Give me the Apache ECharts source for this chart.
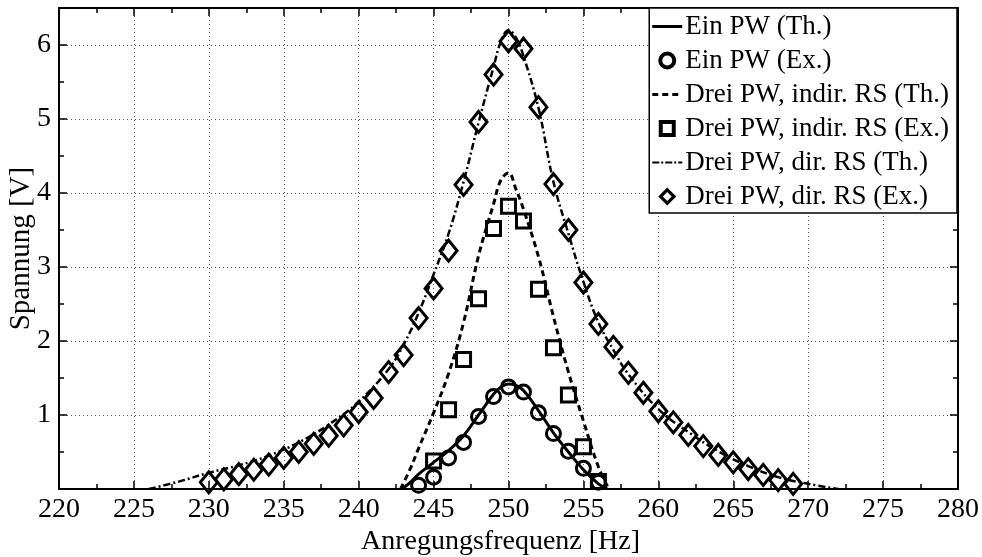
<!DOCTYPE html>
<html>
<head>
<meta charset="utf-8">
<script src="https://cdn.jsdelivr.net/npm/echarts@6/dist/echarts.min.js"></script>
<style>
html,body{margin:0;padding:0;background:#fff;}
#chart{width:982px;height:557px;}
</style>
</head>
<body>
<div id="chart"></div>
<script>
// ---- data ----
var einThFreq = [242.9, 243.5, 244, 245, 246, 247, 248, 249, 249.5, 250, 250.5, 251, 252, 253, 254, 255, 256, 256.6];
var einThVal  = [0, 0.1, 0.2, 0.36, 0.52, 0.72, 1.0, 1.28, 1.38, 1.42, 1.4, 1.33, 1.06, 0.76, 0.5, 0.26, 0.07, 0];

var einExFreq = [244, 245, 246, 247, 248, 249, 250, 251, 252, 253, 254, 255, 256];
var einExVal  = [0.05, 0.16, 0.42, 0.63, 0.98, 1.25, 1.38, 1.31, 1.03, 0.75, 0.51, 0.28, 0.09];

var indThFreq = [242.8, 243.5, 244, 245, 246, 247, 248, 249, 249.5, 250, 250.5, 251, 252, 253, 254, 255, 256, 256.7];
var indThVal  = [0, 0.3, 0.55, 1.03, 1.56, 2.25, 3.15, 3.85, 4.18, 4.27, 4.05, 3.78, 3.14, 2.33, 1.58, 0.92, 0.3, 0];

var indExFreq = [245, 246, 247, 248, 249, 250, 251, 252, 253, 254, 255, 256];
var indExVal  = [0.38, 1.07, 1.75, 2.57, 3.52, 3.82, 3.62, 2.7, 1.91, 1.27, 0.57, 0.1];

var dirThFreq = [226, 228, 230, 232, 234, 236, 238, 240, 242, 243, 244, 245, 246, 247, 248, 249, 249.5, 250, 250.5, 251, 252, 253, 254, 255, 256, 257, 258, 260, 262, 264, 266, 268, 270, 272];
var dirThVal  = [0, 0.1, 0.22, 0.32, 0.45, 0.63, 0.87, 1.18, 1.62, 1.95, 2.38, 2.9, 3.45, 4.15, 4.95, 5.7, 6.05, 6.2, 6.1, 5.85, 5.15, 4.15, 3.45, 2.8, 2.25, 1.88, 1.55, 1.08, 0.77, 0.51, 0.31, 0.16, 0.07, 0];

var dirExFreq = [230, 231, 232, 233, 234, 235, 236, 237, 238, 239, 240, 241, 242, 243, 244, 245, 246, 247, 248, 249, 250, 251, 252, 253, 254, 255, 256, 257, 258, 259, 260, 261, 262, 263, 264, 265, 266, 267, 268, 269];
var dirExVal  = [0.09, 0.13, 0.2, 0.26, 0.33, 0.42, 0.5, 0.61, 0.72, 0.86, 1.04, 1.23, 1.58, 1.81, 2.31, 2.71, 3.22, 4.11, 4.96, 5.6, 6.05, 5.95, 5.16, 4.12, 3.5, 2.79, 2.23, 1.92, 1.57, 1.3, 1.05, 0.9, 0.73, 0.58, 0.46, 0.36, 0.27, 0.19, 0.12, 0.07];

var seriesNames = ['Ein PW (Th.)', 'Ein PW (Ex.)', 'Drei PW, indir. RS (Th.)', 'Drei PW, indir. RS (Ex.)', 'Drei PW, dir. RS (Th.)', 'Drei PW, dir. RS (Ex.)'];
var xMin = 220, xMax = 280, xStep = 5;
var yMin = 0, yMax = 6.5, yStep = 1;

function pairs(xs, ys) { return xs.map(function (x, i) { return [x, ys[i]]; }); }

var FONT = 'Liberation Serif';
var chart = echarts.init(document.getElementById('chart'), null, {renderer: 'canvas'});

var gridDotted = {show: true, lineStyle: {color: '#555', width: 1, type: [1, 3]}};

function xAx(pos, labels) {
  return {
    type: 'value', position: pos, min: xMin, max: xMax, interval: xStep,
    name: labels ? 'Anregungsfrequenz [Hz]' : '', nameLocation: 'middle', nameGap: 39, nameMoveOverlap: false,
    nameTextStyle: {fontFamily: FONT, fontSize: 28, color: '#000', padding: [0, 16, 0, 0]},
    axisLine: {show: true, onZero: false, lineStyle: {color: '#000', width: 2}},
    axisTick: {show: true, inside: true, length: 8, lineStyle: {color: '#000', width: 1.5}},
    minorTick: {show: true, splitNumber: 2, length: 5, lineStyle: {color: '#000', width: 1.5}},
    axisLabel: {show: labels, fontFamily: FONT, fontSize: 28, color: '#000', margin: 7},
    splitLine: labels ? gridDotted : {show: false}
  };
}
function yAx(pos, labels) {
  return {
    type: 'value', position: pos, min: yMin, max: yMax, interval: yStep,
    name: labels ? 'Spannung [V]' : '', nameLocation: 'middle', nameGap: 23, nameMoveOverlap: false,
    nameTextStyle: {fontFamily: FONT, fontSize: 29, color: '#000'},
    axisLine: {show: true, onZero: false, lineStyle: {color: '#000', width: 2}},
    axisTick: {show: true, inside: true, length: 8, lineStyle: {color: '#000', width: 1.5}},
    minorTick: {show: true, splitNumber: 2, length: 5, lineStyle: {color: '#000', width: 1.5}},
    axisLabel: {show: labels, fontFamily: FONT, fontSize: 28, color: '#000', margin: 8,
      formatter: function (v) { return (v === 0 || v % 1 !== 0) ? '' : String(v); }},
    splitLine: labels ? gridDotted : {show: false}
  };
}

var hollow = {color: 'rgba(255,255,255,0)', borderColor: '#000', borderWidth: 3, opacity: 1};

// legend icons (30 x 18 box), corner specks fix the bounding box
var BOX = 'M0,0h0.01v0.01h-0.01z M29.99,17.99h0.01v0.01h-0.01z ';
var icons = [
  BOX + 'M0,7.5h30v3h-30z',
  BOX + 'M6,9 A9,9 0 1 0 24,9 A9,9 0 1 0 6,9 Z M10,9 A5,5 0 1 1 20,9 A5,5 0 1 1 10,9 Z',
  BOX + 'M0,7.5h6v3h-6z M10,7.5h6v3h-6z M20,7.5h6v3h-6z',
  BOX + 'M6.5,0.5h17v17h-17z M10.5,4.5v9h9v-9z',
  BOX + 'M0,8h7v2h-7z M9,8h2v2h-2z M13,8h7v2h-7z M22,8h2v2h-2z M26,8h4v2h-4z',
  BOX + 'M15,0 L24,9 L15,18 L6,9 Z M15,4.6 L10.6,9 L15,13.4 L19.4,9 Z'
];
var legendData = seriesNames.map(function (n, i) {
  return {name: n, icon: 'path://' + icons[i], itemStyle: {color: '#000', borderWidth: 0, opacity: 1}};
});

var option = {
  animation: false,
  backgroundColor: '#fff',
  grid: {left: 59, right: 24, top: 8, bottom: 68, containLabel: false, outerBoundsMode: 'none'},
  xAxis: [xAx('bottom', true), xAx('top', false)],
  yAxis: [yAx('left', true), yAx('right', false)],
  legend: {
    orient: 'vertical', right: 25, top: 8, data: legendData,
    backgroundColor: '#fff', borderColor: '#000', borderWidth: 1.5, borderRadius: 0,
    padding: [5, 8, 3, 3], itemGap: 7, itemWidth: 30, itemHeight: 18,
    itemStyle: {color: '#000', borderWidth: 0, opacity: 1},
    lineStyle: {width: 0},
    textStyle: {fontFamily: FONT, fontSize: 27, color: '#000', padding: [0, 0, 0, -2]}
  },
  series: [
    {name: seriesNames[0], type: 'line', smooth: 0.4, symbol: 'none', data: pairs(einThFreq, einThVal),
     lineStyle: {color: '#000', width: 3}, itemStyle: {color: '#000'}, z: 3},
    {name: seriesNames[1], type: 'scatter', symbol: 'circle', symbolSize: 14, data: pairs(einExFreq, einExVal),
     itemStyle: hollow, z: 2},
    {name: seriesNames[2], type: 'line', smooth: 0.4, symbol: 'none', data: pairs(indThFreq, indThVal),
     lineStyle: {color: '#000', width: 3, type: [6, 4]}, itemStyle: {color: '#000'}, z: 3},
    {name: seriesNames[3], type: 'scatter', symbol: 'rect', symbolSize: 14, data: pairs(indExFreq, indExVal),
     itemStyle: hollow, z: 2},
    {name: seriesNames[4], type: 'line', smooth: 0.4, symbol: 'none', data: pairs(dirThFreq, dirThVal),
     lineStyle: {color: '#000', width: 2.5, type: [7, 3, 2, 3]}, itemStyle: {color: '#000'}, z: 3},
    {name: seriesNames[5], type: 'scatter', symbol: 'diamond', symbolSize: [17, 21], data: pairs(dirExFreq, dirExVal),
     itemStyle: hollow, z: 2}
  ]
};
chart.setOption(option);
</script>
</body>
</html>
